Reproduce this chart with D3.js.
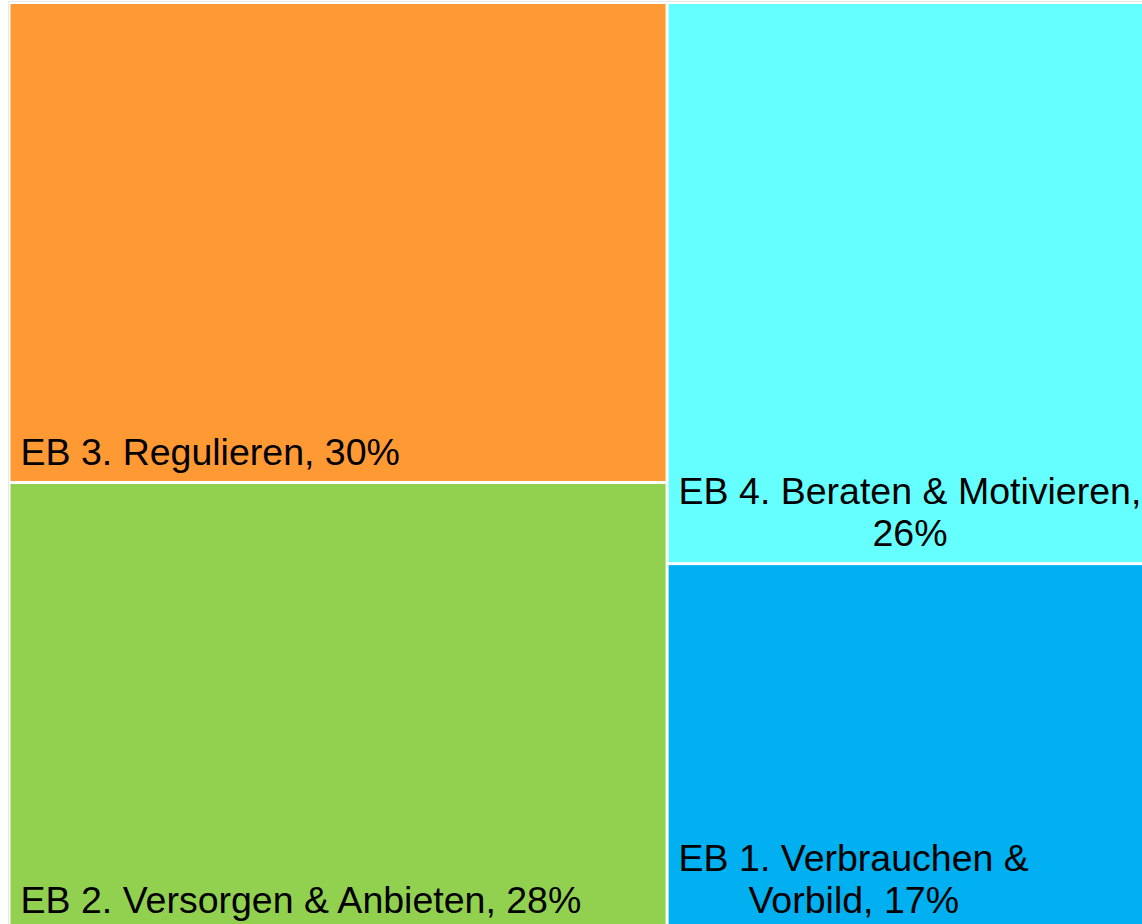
<!DOCTYPE html>
<html lang="de">
<head>
    <meta charset="UTF-8">
    <title>Treemap EB</title>
    <script src="https://d3js.org/d3.v7.min.js"></script>
    <style>
        html, body { margin: 0; padding: 0; background: #fff; overflow: hidden; }
        .label { font-family: "Liberation Sans", Arial, sans-serif; font-size: 37.5px; fill: #000; }
    </style>
</head>
<body>
    <div id="chart"></div>

    <script>
        // data
        const names = ["EB 3. Regulieren", "EB 2. Versorgen & Anbieten", "EB 4. Beraten & Motivieren", "EB 1. Verbrauchen & Vorbild"];
        const shares = [30, 28, 26, 17];
        const colors = ["#FF9933", "#92D050", "#66FFFF", "#00B0F0"];

        const pageW = 1142, pageH = 924;
        const offX = 10.5, offY = 4;
        const mapW = 1143, mapH = 925;   // chart runs past the right and bottom edge
        const pad = 10, lineH = 42, bottomGap = 16;

        const svg = d3.select("#chart")
            .append("svg")
            .attr("width", pageW)
            .attr("height", pageH);

        // faint frame of the chart area
        svg.append("rect")
            .attr("x", 8.5).attr("y", 1.5)
            .attr("width", pageW + 20).attr("height", pageH + 20)
            .attr("fill", "none")
            .attr("stroke", "#e8e8e8");

        const root = d3.hierarchy({children: names.map((n, i) => ({name: n, value: shares[i], color: colors[i]}))})
            .sum(d => d.value || 0)
            .sort((a, b) => b.value - a.value);

        d3.treemap()
            .tile(d3.treemapSquarify)
            .size([mapW, mapH])
            .paddingInner(3)(root);

        const g = svg.append("g").attr("transform", `translate(${offX},${offY})`);

        const cell = g.selectAll("g.cell")
            .data(root.leaves())
            .enter()
            .append("g")
            .attr("class", "cell");

        cell.append("rect")
            .attr("x", d => d.x0)
            .attr("y", d => d.y0)
            .attr("width", d => d.x1 - d.x0)
            .attr("height", d => d.y1 - d.y0)
            .attr("fill", d => d.data.color);

        cell.each(function(d) {
            const sel = d3.select(this);
            const maxW = d.x1 - d.x0 - 2 * pad;
            const words = `${d.data.name}, ${d.data.value}%`.split(" ");

            // measure and wrap words
            const probe = sel.append("text").attr("class", "label");
            const measure = s => { probe.text(s); return probe.node().getComputedTextLength(); };
            const lines = [];
            let cur = "";
            words.forEach(w => {
                const test = cur ? cur + " " + w : w;
                if (cur && measure(test) > maxW) { lines.push(cur); cur = w; }
                else cur = test;
            });
            lines.push(cur);
            const blockW = d3.max(lines, l => measure(l));
            probe.remove();

            const cx = d.x0 + pad + blockW / 2;
            const lastBase = d.y1 - bottomGap;
            const t = sel.append("text")
                .attr("class", "label")
                .attr("text-anchor", "middle");
            lines.forEach((l, i) => {
                t.append("tspan")
                    .attr("x", cx)
                    .attr("y", lastBase - (lines.length - 1 - i) * lineH)
                    .text(l);
            });
        });
    </script>
</body>
</html>
